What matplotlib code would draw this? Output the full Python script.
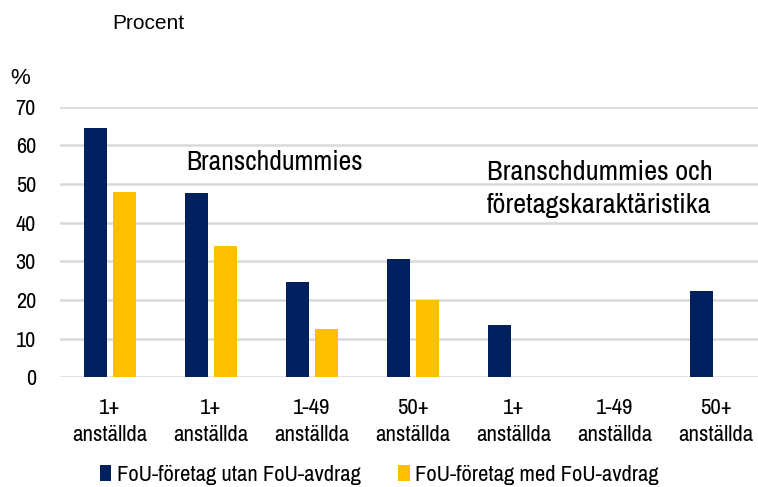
import matplotlib
matplotlib.use("Agg")
import matplotlib.pyplot as plt
import numpy as np

plt.rcParams['font.family'] = ['Archivo Narrow', 'DejaVu Sans']

categories = ["1+\nanställda", "1+\nanställda", "1-49\nanställda", "50+\nanställda",
              "1+\nanställda", "1-49\nanställda", "50+\nanställda"]
utan = [64.4, 47.8, 24.7, 30.7, 13.6, 0, 22.2]
med = [47.9, 34.0, 12.5, 20.0, 0, 0, 0]
yticks = [0, 10, 20, 30, 40, 50, 60, 70]

navy = "#002060"
yellow = "#FFC000"

fig = plt.figure(figsize=(7.58, 4.87), dpi=100)
W, H = 758, 487
left, right = 59.5, 766.5
top, bottom = 106.7, 377.3
ax = fig.add_axes([left / W, 1 - bottom / H, (right - left) / W, (bottom - top) / H])

x = np.arange(len(categories))
bw = 0.228
off = 0.1436
ax.bar(x - off, utan, width=bw, color=navy, zorder=3, label="FoU-företag utan FoU-avdrag")
ax.bar(x + off, med, width=bw, color=yellow, zorder=3, label="FoU-företag med FoU-avdrag")

ax.set_xlim(-0.5, len(categories) - 0.5)
ax.set_ylim(0, 70)
ax.set_yticks(yticks)
ax.set_yticklabels([str(v) for v in yticks], fontsize=16)
ax.set_xticks(x)
ax.set_xticklabels(categories, fontsize=16.5, linespacing=1.45)
ax.yaxis.grid(True, color="#d9d9d9", linewidth=1.8, zorder=0)
ax.set_axisbelow(True)
for s in ax.spines.values():
    s.set_visible(False)
ax.tick_params(axis='both', length=0)
ax.tick_params(axis='y', pad=17)
ax.tick_params(axis='x', pad=15)

fig.text(112 / W, 1 - 23.5 / H, "Procent", fontsize=15, ha="left", va="center",
         family=["Liberation Sans", "DejaVu Sans"])
fig.text(10 / W, 1 - 79 / H, "%", fontsize=16, ha="left", va="center",
         family=["Liberation Sans", "DejaVu Sans"])
fig.text(186 / W, 1 - 163 / H, "Branschdummies", fontsize=20, ha="left", va="center")
fig.text(487 / W, 1 - 189 / H, "Branschdummies och\nföretagskaraktäristika", fontsize=20.4,
         ha="left", va="center", linespacing=1.38)

leg = fig.legend(loc="center left", bbox_to_anchor=(100 / W, 1 - 475 / H), ncol=2, frameon=False,
                 fontsize=16.3, handlelength=0.5, handleheight=0.75, handletextpad=0.25,
                 columnspacing=1.65, borderaxespad=0, borderpad=0)

fig.savefig("out.png", dpi=100)
